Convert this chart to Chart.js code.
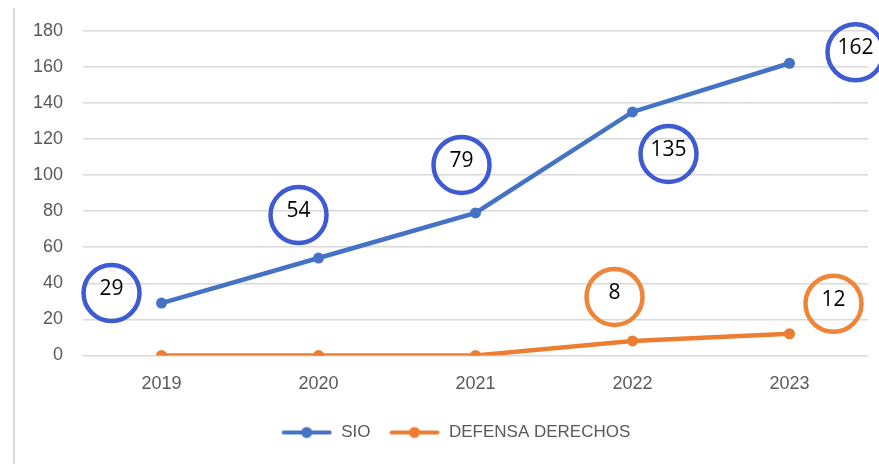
<!DOCTYPE html>
<html><head><meta charset="utf-8">
<script src="https://cdn.jsdelivr.net/npm/chart.js@4"></script>
<style>
html,body{margin:0;padding:0;background:#fff;}
#wrap{position:relative;width:879px;height:464px;}
#edge{position:absolute;left:13px;top:8px;width:2px;height:456px;background:#d9d9d9;}
canvas{position:absolute;left:0;top:0;}
</style></head>
<body>
<div id="wrap"><div id="edge"></div><canvas id="c" width="879" height="464"></canvas></div>
<script>
const categories = ['2019','2020','2021','2022','2023'];
const sioValues = [29, 54, 79, 135, 162];
const defensaValues = [0, 0, 0, 8, 12];
const seriesNames = ['SIO', 'DEFENSA DERECHOS'];
const yTicks = {min: 0, max: 180, step: 20};

// callout circle offsets (pixels, relative to point) - style only
const sioCallouts = [[-50,-10],[-20,-43],[-14,-48],[36,42],[66,-11]];
const defCallouts = [null,null,null,[-18,-44],[44,-30]];

const BLUE = '#4472C4', ORANGE = '#ED7D31';
const BLUE_RING = '#3F5BD2', ORANGE_RING = '#EE8538';
const AXIS_FONT = '"Liberation Sans", Arial, sans-serif';

function legendIcon(color){
  const c = document.createElement('canvas');
  c.width = 52; c.height = 14;
  const g = c.getContext('2d');
  g.strokeStyle = color; g.lineWidth = 4; g.lineCap = 'round';
  g.beginPath(); g.moveTo(3,7); g.lineTo(49,7); g.stroke();
  g.fillStyle = color; g.beginPath(); g.arc(26,7,5.5,0,Math.PI*2); g.fill();
  return c;
}

const legendShift = {
  id: 'legendShift',
  afterLayout(chart){
    const l = chart.legend;
    if (!l) return;
    l.left += 15; l.right += 15;
    l.top -= 7; l.bottom -= 7;
  }
};

const callouts = {
  id: 'callouts',
  afterDatasetsDraw(chart){
    const ctx = chart.ctx;
    const sets = [[0, sioCallouts, BLUE_RING],[1, defCallouts, ORANGE_RING]];
    ctx.save();
    sets.forEach(([di, offs, col]) => {
      const meta = chart.getDatasetMeta(di);
      const data = chart.data.datasets[di].data;
      meta.data.forEach((pt, i) => {
        const o = offs[i]; if (!o) return;
        const x = pt.x + o[0], y = pt.y + o[1];
        ctx.beginPath(); ctx.arc(x, y, 28, 0, Math.PI*2);
        ctx.lineWidth = 4.5; ctx.strokeStyle = col; ctx.stroke();
        ctx.fillStyle = '#000';
        ctx.font = '21px "Open Sans", sans-serif';
        ctx.textAlign = 'center'; ctx.textBaseline = 'middle';
        ctx.fillText(String(data[i]), x, y - 4);
      });
    });
    ctx.restore();
  }
};

new Chart(document.getElementById('c'), {
  type: 'line',
  data: {
    labels: categories,
    datasets: [
      {label: seriesNames[0], data: sioValues, borderColor: BLUE, backgroundColor: BLUE,
       borderWidth: 4.5, pointRadius: 5.5, pointBorderWidth: 0, pointHoverRadius: 5.5, pointStyle: 'circle', tension: 0},
      {label: seriesNames[1], data: defensaValues, borderColor: ORANGE, backgroundColor: ORANGE,
       borderWidth: 4.5, pointRadius: 5.5, pointBorderWidth: 0, pointHoverRadius: 5.5, pointStyle: 'circle', tension: 0}
    ]
  },
  options: {
    responsive: false, animation: false, devicePixelRatio: 1,
    layout: {padding: {left: 13, right: 11, top: 20, bottom: 6}},
    plugins: {
      tooltip: {enabled: false},
      legend: {
        position: 'bottom',
        labels: {
          usePointStyle: true, pointStyleWidth: 52, boxHeight: 14, color: '#595959',
          font: {family: AXIS_FONT, size: 17},
          padding: 18,
          generateLabels(chart){
            return chart.data.datasets.map((d, i) => ({
              text: d.label, pointStyle: legendIcon(d.borderColor), fontColor: '#595959',
              strokeStyle: d.borderColor, fillStyle: d.borderColor, lineWidth: 0, datasetIndex: i, hidden: false
            }));
          }
        }
      }
    },
    scales: {
      x: {
        offset: true,
        grid: {display: false, drawTicks: false},
        border: {display: false},
        ticks: {color: '#595959', font: {family: AXIS_FONT, size: 18}, padding: 18}
      },
      y: {
        min: yTicks.min, max: yTicks.max,
        grid: {color: '#d9d9d9', lineWidth: 1.5, drawTicks: false},
        border: {display: false},
        ticks: {stepSize: yTicks.step, color: '#595959', font: {family: AXIS_FONT, size: 18}, padding: 20}
      }
    }
  },
  plugins: [legendShift, callouts]
});
</script>
</body></html>
